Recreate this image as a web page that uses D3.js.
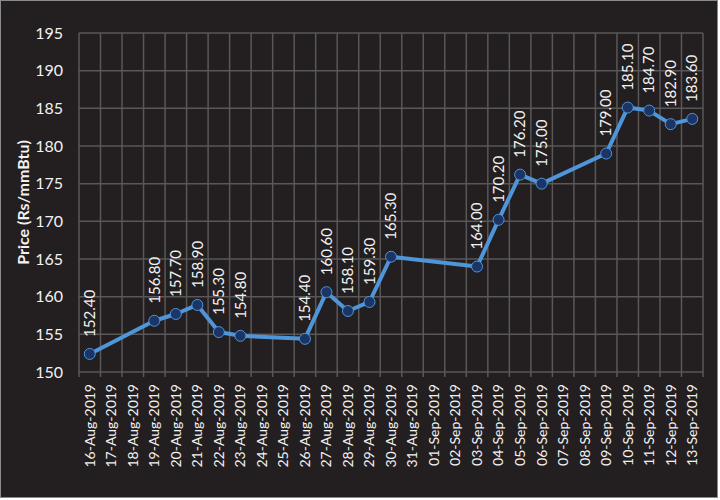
<!DOCTYPE html>
<html>
<head>
<meta charset="utf-8">
<script src="https://cdn.jsdelivr.net/npm/d3@7"></script>
<style>
  body { margin: 0; background: #ffffff; }
  svg { display: block; }
</style>
</head>
<body>
<svg id="chart" width="720" height="500"></svg>
<script>
// Category axis: every calendar day, prices only on trading days
const dates = [
    '16-Aug-2019', '17-Aug-2019', '18-Aug-2019', '19-Aug-2019', '20-Aug-2019',
    '21-Aug-2019', '22-Aug-2019', '23-Aug-2019', '24-Aug-2019', '25-Aug-2019',
    '26-Aug-2019', '27-Aug-2019', '28-Aug-2019', '29-Aug-2019', '30-Aug-2019',
    '31-Aug-2019', '01-Sep-2019', '02-Sep-2019', '03-Sep-2019', '04-Sep-2019',
    '05-Sep-2019', '06-Sep-2019', '07-Sep-2019', '08-Sep-2019', '09-Sep-2019',
    '10-Sep-2019', '11-Sep-2019', '12-Sep-2019', '13-Sep-2019'
];
const priceDates = [
    '16-Aug-2019', '19-Aug-2019', '20-Aug-2019', '21-Aug-2019', '22-Aug-2019',
    '23-Aug-2019', '26-Aug-2019', '27-Aug-2019', '28-Aug-2019', '29-Aug-2019',
    '30-Aug-2019', '03-Sep-2019', '04-Sep-2019', '05-Sep-2019', '06-Sep-2019',
    '09-Sep-2019', '10-Sep-2019', '11-Sep-2019', '12-Sep-2019', '13-Sep-2019'
];
const prices = [
    152.40, 156.80, 157.70, 158.90, 155.30,
    154.80, 154.40, 160.60, 158.10, 159.30,
    165.30, 164.00, 170.20, 176.20, 175.00,
    179.00, 185.10, 184.70, 182.90, 183.60
];
const yTicks = [150, 155, 160, 165, 170, 175, 180, 185, 190, 195];
const yTitle = 'Price (Rs/mmBtu)';

const width = 720, height = 500;
const margin = { top: 33, right: 17, bottom: 128, left: 79 };
const plotW = width - margin.left - margin.right;
const plotH = height - margin.top - margin.bottom;

const svg = d3.select('#chart');
const fontFamily = 'Lato, "Open Sans", sans-serif';
const textColor = '#f2f2f2';

// Background + outer frame
svg.append('rect')
    .attr('x', 0.5).attr('y', 0.5)
    .attr('width', width - 3).attr('height', height - 3)
    .attr('fill', '#231f20')
    .attr('stroke', '#8a8a8a')
    .attr('stroke-width', 1);

const g = svg.append('g')
    .attr('transform', `translate(${margin.left},${margin.top})`);

const x = d3.scaleBand().domain(dates).range([0, plotW]);
const y = d3.scaleLinear().domain([150, 195]).range([plotH, 0]);

// Horizontal gridlines
g.append('g')
    .selectAll('line')
    .data(yTicks)
    .join('line')
    .attr('x1', 0).attr('x2', plotW)
    .attr('y1', d => y(d)).attr('y2', d => y(d))
    .attr('stroke', '#5a5758')
    .attr('stroke-width', 1.5);

// Vertical gridlines at category boundaries
const bounds = dates.map(d => x(d)).concat([plotW]);
g.append('g')
    .selectAll('line')
    .data(bounds)
    .join('line')
    .attr('x1', d => d).attr('x2', d => d)
    .attr('y1', 0).attr('y2', plotH + 5)
    .attr('stroke', '#5a5758')
    .attr('stroke-width', 1.5);

// Y axis labels
const yAxis = g.append('g')
    .call(d3.axisLeft(y).tickValues(yTicks).tickSize(0).tickPadding(16));
yAxis.select('.domain').remove();
yAxis.selectAll('text')
    .attr('fill', textColor)
    .style('font-family', fontFamily)
    .style('font-size', '16px');

// X axis labels, rotated
const xAxis = g.append('g')
    .attr('transform', `translate(0,${plotH})`)
    .call(d3.axisBottom(x).tickSize(0));
xAxis.select('.domain').remove();
xAxis.selectAll('text')
    .attr('fill', textColor)
    .style('font-family', fontFamily)
    .style('font-size', '14px')
    .attr('text-anchor', 'end')
    .attr('dy', '0.35em')
    .attr('transform', 'translate(0,12) rotate(-90)')
    .attr('x', 0).attr('y', 0);

// Y axis title
svg.append('text')
    .attr('transform', `translate(23,${margin.top + plotH / 2}) rotate(-90)`)
    .attr('text-anchor', 'middle')
    .attr('dy', '0.35em')
    .attr('fill', textColor)
    .style('font-family', fontFamily)
    .style('font-size', '16px')
    .style('font-weight', 'bold')
    .text(yTitle);

// Series
const series = priceDates.map((d, i) => ({ date: d, value: prices[i] }));
const cx = d => x(d.date) + x.bandwidth() / 2;

const line = d3.line()
    .x(cx)
    .y(d => y(d.value));

g.append('path')
    .datum(series)
    .attr('fill', 'none')
    .attr('stroke', '#4e95d9')
    .attr('stroke-width', 4)
    .attr('stroke-linejoin', 'round')
    .attr('d', line);

g.append('g')
    .selectAll('circle')
    .data(series)
    .join('circle')
    .attr('cx', cx)
    .attr('cy', d => y(d.value))
    .attr('r', 5.5)
    .attr('fill', '#1b3566')
    .attr('stroke', '#4e95d9')
    .attr('stroke-width', 1);

// Data labels, rotated
g.append('g')
    .selectAll('text')
    .data(series)
    .join('text')
    .attr('transform', d => `translate(${cx(d)},${y(d.value) - 17}) rotate(-90)`)
    .attr('dy', '0.35em')
    .attr('fill', textColor)
    .style('font-family', fontFamily)
    .style('font-size', '15px')
    .text(d => d.value.toFixed(2));
</script>
</body>
</html>
